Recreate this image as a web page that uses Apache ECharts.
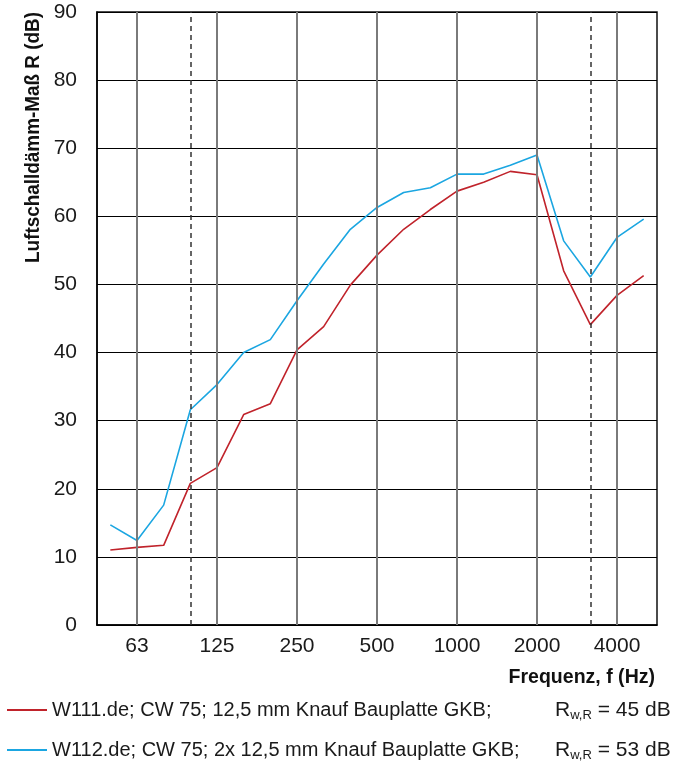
<!DOCTYPE html>
<html><head><meta charset="utf-8">
<script src="https://cdn.jsdelivr.net/npm/echarts@6/dist/echarts.min.js"></script>
<style>html,body{margin:0;padding:0;background:#fff}#c{width:683px;height:767px}</style>
</head><body><div id="c"></div>
<script>
// Third-octave band centre frequencies (Hz)
const freqs = ['50','63','80','100','125','160','200','250','315','400','500','630','800','1000','1250','1600','2000','2500','3150','4000','5000'];
// Labelled octave frequencies (solid vertical grid lines)
const octaveLabels = ['63','125','250','500','1000','2000','4000'];
// Measurement range limits (dashed lines)
const rangeLimits = ['100','3150'];
// Sound reduction index R (dB)
const w111 = [11.0,11.4,11.7,20.8,23.1,30.9,32.5,40.4,43.8,49.9,54.3,58.1,61.0,63.7,65.0,66.6,66.1,52.0,44.1,48.4,51.3];
const w112 = [14.7,12.4,17.6,31.6,35.3,40.0,41.9,47.6,53.0,58.1,61.3,63.5,64.2,66.2,66.2,67.5,69.0,56.4,51.1,56.9,59.6];
const seriesNames = ['W111.de; CW 75; 12,5 mm Knauf Bauplatte GKB;','W112.de; CW 75; 2x 12,5 mm Knauf Bauplatte GKB;'];
const ratings = ['45','53'];
const yTitle = 'Luftschalldämm-Maß R (dB)';
const xTitle = 'Frequenz, f (Hz)';

const FONT = "'Liberation Sans',Arial,sans-serif";
const RED = '#c0232b', BLUE = '#1ba6e1';
const TXT = '#1a1a1a';

const richStyles = {
  a:{fontSize:20,width:503,fontFamily:FONT,color:TXT,lineHeight:24},
  r:{fontSize:21,fontFamily:FONT,color:TXT,lineHeight:24},
  s:{fontSize:13,fontFamily:FONT,color:TXT,verticalAlign:'bottom',lineHeight:24,padding:[12,0,0,0]},
  b:{fontSize:21,fontFamily:FONT,color:TXT,lineHeight:24}
};
function makeLegend(k, top){
  return {orient:'horizontal',left:7,top:top,padding:0,itemWidth:40,itemHeight:2,icon:'rect',
    data:[seriesNames[k]],
    formatter:(n)=>'{a|'+n+'}{r|R}{s|w,R}{b| = '+ratings[k]+' dB}',
    textStyle:{fontFamily:FONT,color:TXT,rich:richStyles}};
}

const chart = echarts.init(document.getElementById('c'), null, {renderer:'canvas'});
chart.setOption({
  animation:false,
  textStyle:{fontFamily:FONT},
  grid:{left:97,right:26,top:12,bottom:142,show:true,borderColor:'#111',borderWidth:1.5,containLabel:false},
  xAxis:{type:'category',data:freqs,boundaryGap:true,
    axisLine:{show:true,lineStyle:{color:'#000',width:1.5}},
    axisTick:{show:false},splitLine:{show:false},
    axisLabel:{interval:(i,v)=>octaveLabels.includes(v),fontSize:21,color:TXT,margin:11,fontFamily:FONT}},
  yAxis:{type:'value',min:0,max:90,interval:10,
    axisLine:{show:true,lineStyle:{color:'#000',width:1.5}},
    axisTick:{show:false},
    splitLine:{show:true,lineStyle:{color:'#000',width:1}},
    axisLabel:{fontSize:21,color:TXT,margin:20,fontFamily:FONT}},
  legend:[makeLegend(0,697),makeLegend(1,737)],
  graphic:[
    {type:'text',x:33,y:12,rotation:Math.PI/2,scaleX:0.9,style:{text:yTitle,fontFamily:FONT,fontWeight:'bold',fontSize:21,fill:'#111',align:'right',verticalAlign:'middle'}},
    {type:'text',x:655,y:677,scaleX:0.93,style:{text:xTitle,fontFamily:FONT,fontWeight:'bold',fontSize:21,fill:'#111',align:'right',verticalAlign:'middle'}}
  ],
  series:[
    {type:'line',name:'grid',data:[],z:1,silent:true,
      markLine:{silent:true,symbol:['none','none'],label:{show:false},
        data:octaveLabels.map(f=>({xAxis:f,lineStyle:{color:'#7a7a7a',width:2,type:'solid'}}))
          .concat(rangeLimits.map(f=>({xAxis:f,lineStyle:{color:'#333',width:1.5,type:[5,4]}})))}},
    {type:'line',name:seriesNames[0],data:w111,symbol:'none',z:3,lineStyle:{color:RED,width:1.6},itemStyle:{color:RED}},
    {type:'line',name:seriesNames[1],data:w112,symbol:'none',z:3,lineStyle:{color:BLUE,width:1.6},itemStyle:{color:BLUE}}
  ]
});
</script></body></html>
